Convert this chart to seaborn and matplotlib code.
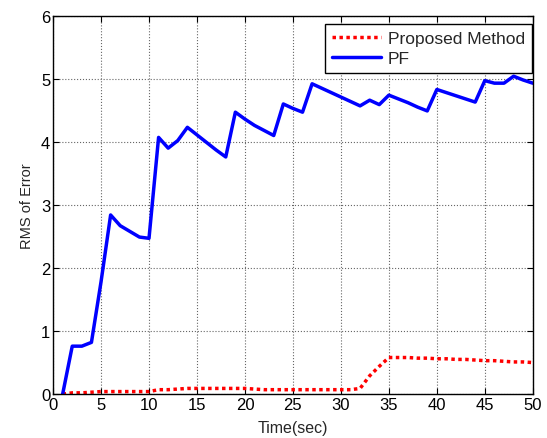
import numpy as np
import pandas as pd
import matplotlib
matplotlib.use("Agg")
import matplotlib.pyplot as plt
import seaborn as sns

time = list(range(1, 51))
pf = [0.0, 0.76, 0.76, 0.82, 1.78, 2.84, 2.67, 2.58, 2.49, 2.47,
      4.07, 3.90, 4.02, 4.23, 4.11, 3.99, 3.87, 3.76, 4.47, 4.36,
      4.26, 4.18, 4.10, 4.60, 4.53, 4.47, 4.92, 4.85, 4.78, 4.71,
      4.64, 4.57, 4.66, 4.59, 4.74, 4.68, 4.62, 4.55, 4.49, 4.83,
      4.78, 4.73, 4.68, 4.63, 4.97, 4.93, 4.93, 5.04, 4.98, 4.93]
proposed = [0.0, 0.02, 0.02, 0.03, 0.04, 0.04, 0.04, 0.04, 0.04, 0.04,
            0.07, 0.07, 0.08, 0.09, 0.09, 0.09, 0.09, 0.09, 0.09, 0.09,
            0.08, 0.07, 0.07, 0.07, 0.07, 0.07, 0.07, 0.07, 0.07, 0.07,
            0.07, 0.09, 0.29, 0.44, 0.58, 0.58, 0.58, 0.57, 0.57, 0.56,
            0.56, 0.55, 0.55, 0.54, 0.53, 0.53, 0.52, 0.51, 0.51, 0.50]
series_names = ["Proposed Method", "PF"]

sns.set_theme(style="white")
plt.rcParams['font.family'] = ['Liberation Sans', 'DejaVu Sans']

df = pd.DataFrame({
    "t": time * 2,
    "v": proposed + pf,
    "s": [series_names[0]] * len(time) + [series_names[1]] * len(time),
})

fig = plt.figure(figsize=(5.47, 4.39), dpi=100)
ax = fig.add_axes([0.097, 0.100, 0.877, 0.862])

sns.lineplot(data=df, x="t", y="v", hue="s", style="s",
             palette={series_names[0]: "#ff0000", series_names[1]: "#0000ff"},
             dashes={series_names[0]: (1, 1), series_names[1]: ""},
             linewidth=2.5, ax=ax)

ax.set_xlim(0, 50)
ax.set_ylim(0, 6)
ax.set_xticks(range(0, 51, 5))
ax.set_yticks(range(0, 7))
ax.grid(True, color="#666666", linestyle=":", linewidth=0.8)
ax.tick_params(direction="in", top=True, right=True, length=4, width=0.8,
               labelsize=12, colors="black", pad=2, bottom=True, left=True)
for sp in ax.spines.values():
    sp.set_color("black")
    sp.set_linewidth(1.0)
ax.set_xlabel("Time(sec)", fontsize=11.5, labelpad=6)
ax.set_ylabel("RMS of Error", fontsize=10.5, labelpad=5)

leg = ax.legend(loc="upper right", bbox_to_anchor=(0.998, 0.978),
                fontsize=12.5, frameon=True, fancybox=False,
                edgecolor="black", framealpha=1, borderpad=0.4,
                handlelength=2.8, labelspacing=0.3, borderaxespad=0,
                handletextpad=0.4)
leg.get_frame().set_linewidth(1.0)

fig.savefig("out.png", dpi=100)
